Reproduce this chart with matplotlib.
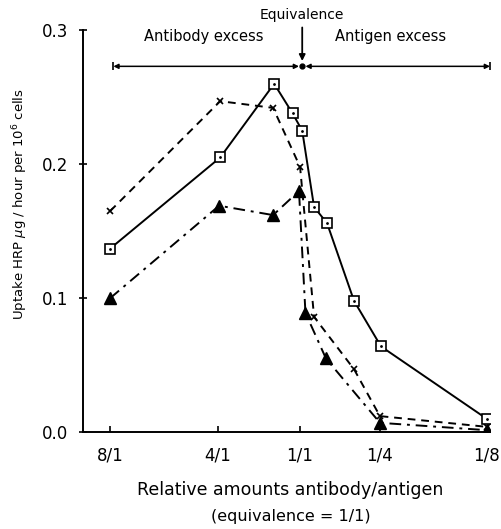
import matplotlib
matplotlib.use('Agg')
import matplotlib.pyplot as plt

# tick positions on the (non-uniform) ratio axis
tick_pos = [0.0, 1.0, 1.76, 2.5, 3.49]
tick_labels = ['8/1', '4/1', '1/1', '1/4', '1/8']

# squares, solid line
sq_x = [0.0, 1.02, 1.52, 1.69, 1.78, 1.89, 2.01, 2.26, 2.51, 3.49]
sq_y = [0.137, 0.205, 0.260, 0.238, 0.225, 0.168, 0.156, 0.098, 0.064, 0.010]

# crosses, dashed line
cr_x = [0.0, 1.02, 1.51, 1.76, 1.89, 2.26, 2.5, 3.49]
cr_y = [0.165, 0.247, 0.242, 0.198, 0.086, 0.047, 0.012, 0.004]

# triangles, dash-dot line
tr_x = [0.0, 1.01, 1.51, 1.75, 1.81, 2.0, 2.5, 3.49]
tr_y = [0.100, 0.169, 0.162, 0.180, 0.089, 0.055, 0.007, 0.0015]

equiv_x = 1.78

plt.rcParams['font.family'] = 'DejaVu Sans'
fig = plt.figure(figsize=(5.01, 5.29), dpi=100)
ax = fig.add_axes([0.166, 0.183, 0.812, 0.760])

ax.plot(sq_x, sq_y, 'k-', lw=1.4, marker='s', ms=6.5, mfc='white', mec='k', mew=1.2, zorder=3)
ax.plot(sq_x, sq_y, 'k.', ms=2, zorder=4)
ax.plot(cr_x, cr_y, color='k', ls=(0, (4, 3)), lw=1.4, marker='x', ms=4, mew=1.2)
ax.plot(tr_x, tr_y, color='k', ls=(0, (6, 3, 1.5, 3)), lw=1.4, marker='^', ms=8)

# excess / equivalence bar
bar_y = 0.273
ax.annotate('', xy=(0.03, bar_y), xytext=(equiv_x - 0.03, bar_y),
            arrowprops=dict(arrowstyle='<|-|>', color='k', lw=1.1, mutation_scale=7,
                            shrinkA=0, shrinkB=0), annotation_clip=False)
ax.annotate('', xy=(3.52, bar_y), xytext=(equiv_x + 0.03, bar_y),
            arrowprops=dict(arrowstyle='<|-|>', color='k', lw=1.1, mutation_scale=7,
                            shrinkA=0, shrinkB=0), annotation_clip=False)
ax.plot([0.03, 3.52], [bar_y, bar_y], 'k|', ms=6, mew=1.2, clip_on=False)
ax.plot([equiv_x], [bar_y], 'ko', ms=3.5, clip_on=False)
ax.annotate('', xy=(equiv_x, 0.277), xytext=(equiv_x, 0.302),
            arrowprops=dict(arrowstyle='-|>', color='k', lw=1.3, mutation_scale=9,
                            shrinkA=0, shrinkB=0), annotation_clip=False)
ax.text(equiv_x, 0.311, 'Equivalence', ha='center', va='center', fontsize=10)
ax.text(0.87, 0.295, 'Antibody excess', ha='center', va='center', fontsize=10.5)
ax.text(2.6, 0.295, 'Antigen excess', ha='center', va='center', fontsize=10.5)

ax.set_xlim(-0.25, 3.52)
ax.set_ylim(0, 0.3)
ax.set_xticks(tick_pos)
ax.set_xticklabels(tick_labels, fontsize=12)
ax.set_yticks([0.0, 0.1, 0.2, 0.3])
ax.set_yticklabels(['0.0', '0.1', '0.2', '0.3'], fontsize=12)
ax.tick_params(axis='x', direction='in', length=4, width=1.2, pad=10)
ax.tick_params(axis='y', direction='inout', length=6, width=1.2, pad=8)
for s in ['top', 'right']:
    ax.spines[s].set_visible(False)
for s in ['left', 'bottom']:
    ax.spines[s].set_linewidth(1.4)

fig.text(0.040, 0.614, 'Uptake HRP $\\mu$g / hour per 10$^6$ cells', rotation=90,
         ha='center', va='center', fontsize=9.5)
fig.text(0.58, 0.074, 'Relative amounts antibody/antigen', ha='center', va='center',
         fontsize=12.5)
fig.text(0.58, 0.023, '(equivalence = 1/1)', ha='center', va='center', fontsize=11.5)

fig.savefig('out.png', dpi=100)
